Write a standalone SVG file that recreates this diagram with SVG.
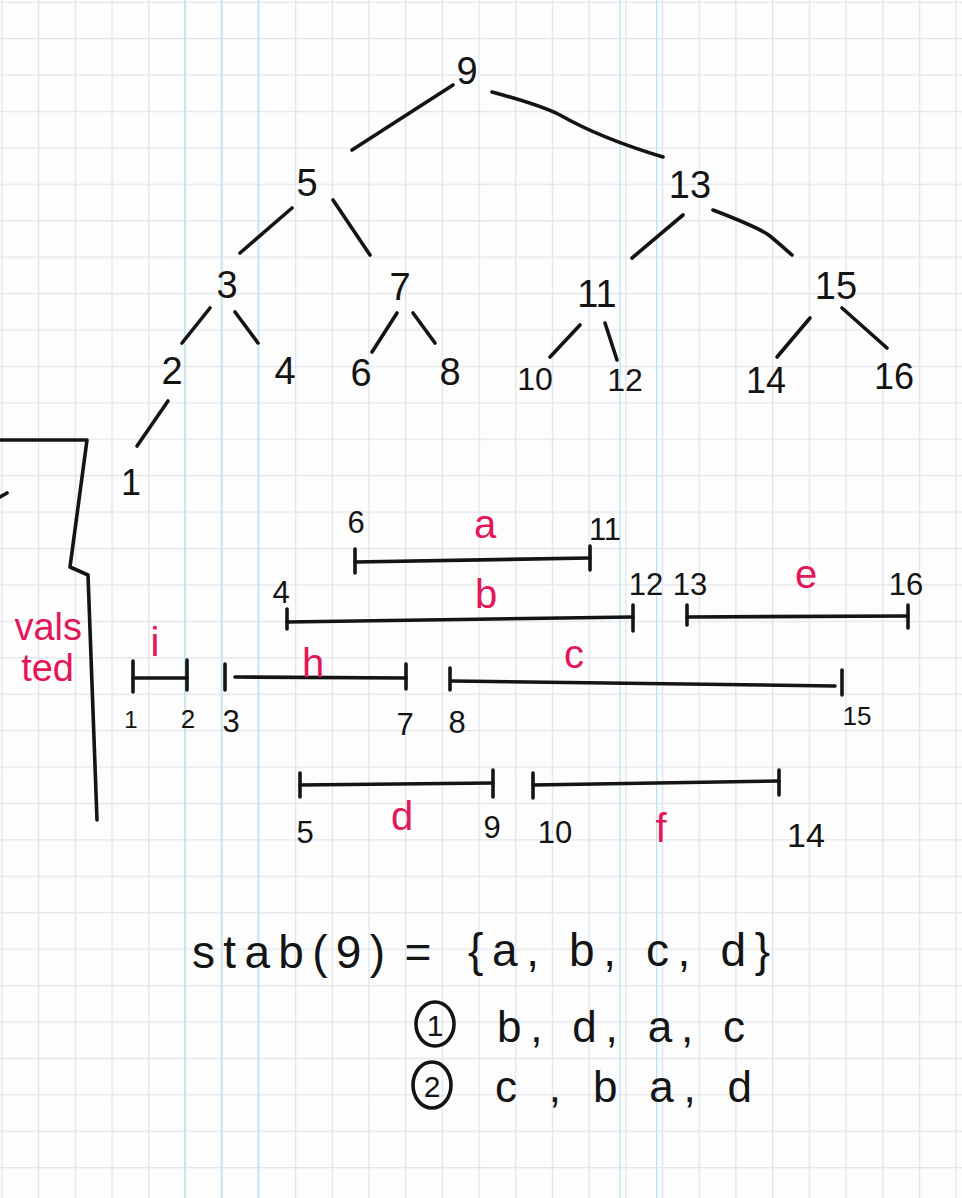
<svg xmlns="http://www.w3.org/2000/svg" width="962" height="1198" viewBox="0 0 962 1198">
<defs>
<pattern id="gv" x="1.3" y="0" width="36.7" height="1198" patternUnits="userSpaceOnUse"><rect x="0" y="0" width="1.3" height="1198" fill="#dfe4ea"/></pattern>
<pattern id="gh" x="0" y="1.6" width="962" height="36.42" patternUnits="userSpaceOnUse"><rect x="0" y="0" width="962" height="1.3" fill="#e2e6ec"/></pattern>
<style>
.ink{stroke:#141414;stroke-width:3.6;fill:none;stroke-linecap:round;stroke-linejoin:round}
.n{font-family:"Liberation Sans",Arial,sans-serif;fill:#141414}
.r{font-family:"Liberation Sans",Arial,sans-serif;fill:#e3165a}
.mid{text-anchor:middle}
.st{text-anchor:start}
.en{text-anchor:end}
</style>
</defs>
<rect width="962" height="1198" fill="#fdfdfe"/>
<rect width="962" height="1198" fill="url(#gv)"/>
<rect width="962" height="1198" fill="url(#gh)"/>
<g id="cyan" stroke="#bfe3f0" stroke-width="1.4">
<line x1="184.8" y1="0" x2="184.8" y2="1198"/><line x1="221.5" y1="0" x2="221.5" y2="1198"/><line x1="258.2" y1="0" x2="258.2" y2="1198"/><line x1="620" y1="0" x2="620" y2="1198"/><line x1="656.7" y1="0" x2="656.7" y2="1198"/>
</g>

<g id="connectors" class="ink">
<path d="M453 85 L352 150"/>
<path d="M492 92 Q540 105 560 115 Q600 138 663 157"/>
<path d="M292 208 L240 253"/>
<path d="M333 200 L370 255"/>
<path d="M210 308 L182 343"/>
<path d="M235 312 L258 343"/>
<path d="M397 313 L372 352"/>
<path d="M413 313 L435 343"/>
<path d="M168 401 L137 446"/>
<path d="M683 215 L632 258"/>
<path d="M713 210 Q760 228 770 236 Q782 246 792 255"/>
<path d="M580 325 L550 357"/>
<path d="M605 323 L617 360"/>
<path d="M810 318 L777 357"/>
<path d="M842 308 L887 348"/>
</g>

<g id="tree" class="n mid" font-size="38">
<text id="n9" x="467" y="84">9</text>
<text id="n5" x="307" y="196">5</text>
<text id="n13" x="690" y="198">13</text>
<text id="n3" x="227" y="298">3</text>
<text id="n7" x="400" y="300">7</text>
<text id="n11" x="597" y="307">11</text>
<text id="n15" x="836" y="299">15</text>
<text id="n2" x="172" y="384">2</text>
<text id="n4" x="285" y="384">4</text>
<text id="n6" x="361" y="386">6</text>
<text id="n8" x="450" y="385">8</text>
<text id="n10" x="535" y="390" font-size="32">10</text>
<text id="n12" x="625" y="391" font-size="32">12</text>
<text id="n14" x="766" y="393" font-size="36">14</text>
<text id="n16" x="894" y="389" font-size="36">16</text>
<text id="n1" x="131" y="495" font-size="36">1</text>
</g>

<g id="bracket" class="ink">
<path d="M0 440 L87 440 L70 567 L88 575 L97 820"/>
<path d="M0 497 L7 493"/>
</g>
<g id="note" class="r en" font-size="38">
<text x="82" y="640">vals</text>
<text x="74" y="681">ted</text>
</g>

<g id="intervals" class="ink">
<g id="iv-a"><path d="M355 562 L590 558"/><path d="M355 549 L355 573"/><path d="M590 546 L590 570"/></g>
<g id="iv-b"><path d="M287 622 L633 617"/><path d="M287 609 L287 629"/><path d="M633 605 L633 631"/></g>
<g id="iv-e"><path d="M687 617 L908 616"/><path d="M687 605 L687 625"/><path d="M908 605 L908 628"/></g>
<g id="iv-i"><path d="M133 678 L187 678"/><path d="M133 661 L133 692"/><path d="M187 660 L187 690"/></g>
<g id="iv-h"><path d="M225 664 L225 690"/><path d="M235 677 L406 678"/><path d="M406 664 L406 689"/></g>
<g id="iv-c"><path d="M450 668 L450 690"/><path d="M452 681 L835 686"/><path d="M842 670 L842 695"/></g>
<g id="iv-d"><path d="M300 785 L493 783"/><path d="M300 773 L300 797"/><path d="M493 770 L493 797"/></g>
<g id="iv-f"><path d="M533 785 L779 781"/><path d="M533 773 L533 798"/><path d="M779 770 L779 795"/></g>
</g>

<g id="endpoints" class="n mid" font-size="31">
<text x="356" y="533">6</text>
<text x="605" y="540">11</text>
<text x="281" y="603">4</text>
<text x="646" y="595">12</text>
<text x="690" y="595">13</text>
<text x="906" y="595">16</text>
<text x="131" y="728" font-size="24">1</text>
<text x="188" y="728" font-size="26">2</text>
<text x="231" y="732">3</text>
<text x="405" y="735">7</text>
<text x="457" y="733">8</text>
<text x="857" y="725" font-size="26">15</text>
<text x="305" y="843">5</text>
<text x="492" y="838">9</text>
<text x="555" y="843">10</text>
<text x="806" y="847" font-size="34">14</text>
</g>

<g id="names" class="r mid" font-size="40">
<text x="485" y="538">a</text>
<text x="486" y="608">b</text>
<text x="806" y="588">e</text>
<text x="155" y="656">i</text>
<text x="313" y="677">h</text>
<text x="574" y="668">c</text>
<text x="402" y="830">d</text>
<text x="661" y="842">f</text>
</g>

<g id="stab" class="n" font-size="46">
<text class="st" x="192" y="968" textLength="193" lengthAdjust="spacing">stab(9)</text>
<text class="mid" x="418" y="968">=</text>
<text class="st" x="468" y="966" textLength="302" lengthAdjust="spacing">{a, b, c, d}</text>
</g>
<g id="order1">
<ellipse cx="435" cy="1024" rx="19" ry="22" class="ink" stroke-width="3"/>
<text class="n mid" x="435" y="1036" font-size="30">1</text>
<text class="n st" x="497" y="1042" font-size="44" textLength="248" lengthAdjust="spacing">b, d, a, c</text>
</g>
<g id="order2">
<ellipse cx="432" cy="1085" rx="19" ry="23" class="ink" stroke-width="3"/>
<text class="n mid" x="432" y="1097" font-size="30">2</text>
<text class="n st" x="495" y="1102" font-size="44" textLength="257" lengthAdjust="spacing">c , b  a, d</text>
</g>
</svg>
